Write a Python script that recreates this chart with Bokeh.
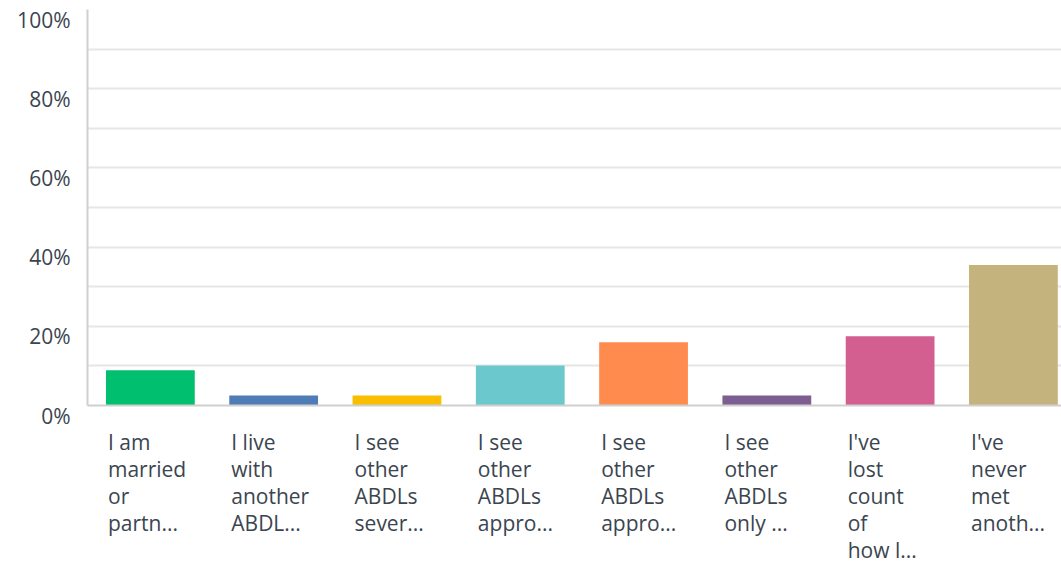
from bokeh.plotting import figure
from bokeh.models import ColumnDataSource, FixedTicker, Range1d
from bokeh.layouts import row, column
from bokeh.transform import dodge
from bokeh.core.properties import value
from bokeh.embed import file_html
from bokeh.resources import INLINE

categories = [
    "I am\nmarried\nor\npartn...",
    "I live\nwith\nanother\nABDL...",
    "I see\nother\nABDLs\nsever...",
    "I see\nother\nABDLs\nappro...",
    "I see\nother\nABDLs\nappro...",
    "I see\nother\nABDLs\nonly ...",
    "I've\nlost\ncount\nof\nhow l...",
    "I've\nnever\nmet\nanoth...",
]
values = [8.9, 2.5, 2.5, 10.1, 16.0, 2.5, 17.5, 35.5]
colors = ["#00bf6f", "#507cb6", "#f9be00", "#6bc8cd", "#ff8b4f", "#7d5e90", "#d25f90", "#c4b37d"]
y_ticks = [0, 20, 40, 60, 80, 100]
grid_ticks = [10, 20, 30, 40, 50, 60, 70, 80, 90]

FONT = "Open Sans"
TXT = "#3b4550"

# layout constants (pixels)
LEFT_W = 86
TOP_H = 408
BOT_H = 158
FRAME_TOP = 9
FRAME_BOTTOM = 405
PX_PER_UNIT = (FRAME_BOTTOM - FRAME_TOP) / 100.0

idx = list(range(len(categories)))
src = ColumnDataSource(dict(x=idx, v=values, c=colors))

x_range = Range1d(-0.15, 7.75)

# ---- main bar chart ----
p = figure(width=1061 - LEFT_W, height=TOP_H, output_backend="svg", toolbar_location=None,
           x_range=x_range, y_range=Range1d(0, 100),
           min_border_left=1, min_border_top=FRAME_TOP,
           min_border_bottom=TOP_H - FRAME_BOTTOM, min_border_right=0)
p.outline_line_color = None
p.vbar(x=dodge("x", 0.36, range=x_range), top="v", width=0.72, bottom=0,
       fill_color="c", line_color=None, source=src)

for ax in (p.xaxis, p.yaxis):
    ax.major_tick_line_color = None
    ax.minor_tick_line_color = None
    ax.major_tick_out = 0
    ax.major_tick_in = 0
    ax.minor_tick_out = 0
    ax.major_label_standoff = 0
    ax.major_label_text_font_size = "0px"
    ax.major_label_text_color = None
    ax.axis_line_color = "#cfcfcf"
    ax.axis_line_width = 2
p.yaxis.ticker = FixedTicker(ticks=y_ticks)
p.xaxis.ticker = FixedTicker(ticks=idx)

p.xgrid.grid_line_color = None
p.ygrid.ticker = FixedTicker(ticks=grid_ticks)
p.ygrid.grid_line_color = "#e6e6e6"
p.ygrid.grid_line_width = 2

# ---- y tick labels (left strip, same vertical scale) ----
total_h = TOP_H + BOT_H
left = figure(width=LEFT_W, height=total_h, output_backend="svg", toolbar_location=None,
              x_range=Range1d(0, LEFT_W),
              y_range=Range1d((FRAME_BOTTOM - total_h) / PX_PER_UNIT, FRAME_BOTTOM / PX_PER_UNIT),
              min_border=0)
left.axis.visible = False
left.grid.grid_line_color = None
left.outline_line_color = None
ysrc = ColumnDataSource(dict(y=y_ticks, t=[f"{t}%" for t in y_ticks], x=[70] * len(y_ticks)))
left.text(x="x", y="y", text="t", source=ysrc, text_align="right", text_baseline="middle",
          y_offset=10, text_font=value(FONT), text_font_size="21px", text_color=TXT)

# ---- category labels (below the bars, same horizontal scale) ----
LINE_H = 27.0
BASE0 = 33
bottom = figure(width=1061 - LEFT_W, height=BOT_H, output_backend="svg", toolbar_location=None,
                x_range=x_range,
                y_range=Range1d(BASE0 / LINE_H - BOT_H / LINE_H, BASE0 / LINE_H),
                min_border=0, min_border_left=1)
bottom.axis.visible = False
bottom.grid.grid_line_color = None
bottom.outline_line_color = None
lx, ly, lt = [], [], []
for i, cat in zip(idx, categories):
    for j, line in enumerate(cat.split("\n")):
        lx.append(i)
        ly.append(-j)
        lt.append(line)
bottom.text(x="x", y="y", text="t", source=ColumnDataSource(dict(x=lx, y=ly, t=lt)),
            x_offset=2, text_align="left", text_baseline="alphabetic",
            text_font=value(FONT), text_font_size="21px", text_color=TXT)

layout = row(left, column(p, bottom, spacing=0), spacing=0)
open("out.html", "w").write(file_html(layout, INLINE))
